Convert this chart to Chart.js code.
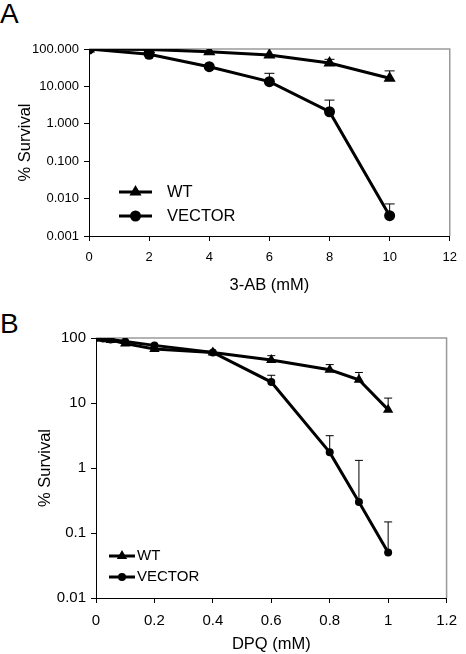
<!DOCTYPE html>
<html>
<head>
<meta charset="utf-8">
<script src="https://cdn.jsdelivr.net/npm/chart.js@4"></script>
<style>
  html, body { margin: 0; padding: 0; background: #fff; }
  body { width: 466px; height: 654px; position: relative; overflow: hidden; font-family: "Liberation Sans", Arial, sans-serif; }
  .panel { position: absolute; left: 0; width: 466px; }
  .tag { position: absolute; left: 0; font-size: 28px; line-height: 28px; color: #000; }
</style>
</head>
<body>
<div class="tag" style="top:0px;">A</div>
<div class="panel" style="top:0; height:300px;"><canvas id="chartA" width="466" height="300"></canvas></div>
<div class="tag" style="top:310px;">B</div>
<div class="panel" style="top:300px; height:354px;"><canvas id="chartB" width="466" height="354"></canvas></div>
<script>
// Panel A: 3-AB
const doseA = [0, 2, 4, 6, 8, 10];
const wtA = [100, 97, 85, 69, 42, 16.5];
const wtTopA = [null, null, null, null, 53, 26];
const vecA = [100, 72, 33.6, 13.4, 2.1, 0.0035];
const vecTopA = [null, null, null, 22.4, 4.3, 0.0072];
const xTicksA = [0, 2, 4, 6, 8, 10, 12];
const yTicksA = [0.001, 0.01, 0.1, 1, 10, 100];
const yLabelsA = ['0.001', '0.010', '0.100', '1.000', '10.000', '100.000'];

// Panel B: DPQ
const doseB = [0, 0.025, 0.05, 0.1, 0.2, 0.4, 0.6, 0.8, 0.9, 1.0];
const wtB = [100, 97, 93, 82, 68, 60, 46, 32.5, 22.8, 7.9];
const wtTopB = [null, null, null, null, null, null, 53.5, 39, 29.5, 11.9];
const vecB = [100, 98, 95, 88, 77, 60, 21, 1.74, 0.30, 0.05];
const vecTopB = [null, null, null, null, null, null, 26.7, 3.14, 1.31, 0.148];
const xTicksB = [0, 0.2, 0.4, 0.6, 0.8, 1.0, 1.2];
const xLabelsB = ['0', '0.2', '0.4', '0.6', '0.8', '1', '1.2'];
const yTicksB = [0.01, 0.1, 1, 10, 100];
const yLabelsB = ['0.01', '0.1', '1', '10', '100'];

const seriesNames = ['WT', 'VECTOR'];
const FONT = '"Liberation Sans", Arial, sans-serif';

const toPoints = (xs, ys) => xs.map((x, i) => ({ x, y: ys[i] }));

function drawMarker(ctx, style, r, x, y) {
  ctx.beginPath();
  if (style === 'triangle') {
    ctx.moveTo(x, y - r);
    ctx.lineTo(x + r * 0.866, y + r * 0.5);
    ctx.lineTo(x - r * 0.866, y + r * 0.5);
    ctx.closePath();
  } else {
    ctx.arc(x, y, r, 0, Math.PI * 2);
  }
  ctx.fill();
}

// upper-only error bars with caps
const errorBars = {
  id: 'errorBars',
  afterDatasetsDraw(chart, args, opts) {
    const { ctx, scales: { x, y } } = chart;
    ctx.save();
    ctx.strokeStyle = '#000';
    ctx.lineWidth = 1;
    chart.data.datasets.forEach(ds => {
      (ds.errTop || []).forEach((top, i) => {
        if (top == null) return;
        const px = x.getPixelForValue(ds.data[i].x);
        const py = y.getPixelForValue(ds.data[i].y);
        const pt = y.getPixelForValue(top);
        ctx.beginPath();
        ctx.moveTo(px, py);
        ctx.lineTo(px, pt);
        ctx.moveTo(px - opts.cap, pt);
        ctx.lineTo(px + opts.cap, pt);
        ctx.stroke();
      });
    });
    ctx.restore();
  }
};

// grey top/right frame
const frame = {
  id: 'frame',
  beforeDatasetsDraw(chart) {
    const { ctx, chartArea: a } = chart;
    ctx.save();
    ctx.strokeStyle = '#9a9a9a';
    ctx.lineWidth = 1.5;
    ctx.beginPath();
    ctx.moveTo(a.left, a.top);
    ctx.lineTo(a.right, a.top);
    ctx.lineTo(a.right, a.bottom);
    ctx.stroke();
    ctx.restore();
  }
};

// in-plot legend
const insetLegend = {
  id: 'insetLegend',
  afterDraw(chart, args, o) {
    const { ctx } = chart;
    ctx.save();
    ctx.font = o.fontSize + 'px ' + FONT;
    ctx.textBaseline = 'middle';
    chart.data.datasets.forEach((ds, i) => {
      const y = o.y[i];
      ctx.strokeStyle = '#000';
      ctx.fillStyle = '#000';
      ctx.lineWidth = ds.borderWidth;
      ctx.beginPath();
      ctx.moveTo(o.x1, y);
      ctx.lineTo(o.x2, y);
      ctx.stroke();
      drawMarker(ctx, ds.pointStyle, ds.pointRadius, (o.x1 + o.x2) / 2, y);
      ctx.fillText(ds.label, o.textX, y);
    });
    ctx.restore();
  }
};

function makeChart(id, cfg) {
  return new Chart(document.getElementById(id), {
    type: 'line',
    data: {
      datasets: [
        {
          label: seriesNames[0], data: toPoints(cfg.dose, cfg.wt), errTop: cfg.wtTop,
          borderColor: '#000', backgroundColor: '#000', borderWidth: 3,
          pointStyle: 'triangle', pointRadius: cfg.triR, pointBorderWidth: 0, tension: 0
        },
        {
          label: seriesNames[1], data: toPoints(cfg.dose, cfg.vec), errTop: cfg.vecTop,
          borderColor: '#000', backgroundColor: '#000', borderWidth: 3,
          pointStyle: 'circle', pointRadius: cfg.circR, pointBorderWidth: 0, tension: 0
        }
      ]
    },
    options: {
      responsive: false,
      animation: false,
      events: [],
      layout: { padding: { top: cfg.padTop, right: cfg.padRight, left: 0, bottom: 0 } },
      plugins: {
        legend: { display: false },
        tooltip: { enabled: false },
        errorBars: { cap: cfg.cap },
        insetLegend: cfg.legend
      },
      scales: {
        x: {
          type: 'linear', min: cfg.xTicks[0], max: cfg.xTicks[cfg.xTicks.length - 1],
          afterBuildTicks: s => { s.ticks = cfg.xTicks.map(v => ({ value: v })); },
          afterFit: s => { s.height = cfg.xHeight; },
          ticks: {
            color: '#000', padding: 9, maxRotation: 0, autoSkip: false,
            font: { family: FONT, size: cfg.tickSize },
            callback: (v) => cfg.xLabels[cfg.xTicks.indexOf(v)] ?? ''
          },
          grid: { drawOnChartArea: false, drawTicks: true, tickLength: 5, color: '#000' },
          border: { display: true, color: '#000', width: 1 },
          title: {
            display: true, text: cfg.xTitle, color: '#000',
            font: { family: FONT, size: 16.5, lineHeight: 1.2 },
            padding: { top: 0, bottom: cfg.xTitlePad }
          }
        },
        y: {
          type: 'logarithmic', min: cfg.yTicks[0], max: cfg.yTicks[cfg.yTicks.length - 1],
          afterBuildTicks: s => { s.ticks = cfg.yTicks.map(v => ({ value: v, major: true })); },
          afterFit: s => { s.width = cfg.yWidth; },
          ticks: {
            color: '#000', padding: 5, autoSkip: false,
            font: { family: FONT, size: cfg.tickSize },
            callback: (v) => {
              const i = cfg.yTicks.findIndex(t => Math.abs(Math.log10(t) - Math.log10(v)) < 1e-6);
              return i >= 0 ? cfg.yLabels[i] : '';
            }
          },
          grid: { drawOnChartArea: false, drawTicks: true, tickLength: 5, color: '#000' },
          border: { display: true, color: '#000', width: 1 },
          title: {
            display: true, text: '% Survival', color: '#000',
            font: { family: FONT, size: 16.5, lineHeight: 1.2 },
            padding: { top: cfg.yTitlePad, bottom: 0 }
          }
        }
      }
    },
    plugins: [frame, errorBars, insetLegend]
  });
}

makeChart('chartA', {
  dose: doseA, wt: wtA, wtTop: wtTopA, vec: vecA, vecTop: vecTopA,
  xTicks: xTicksA, xLabels: xTicksA.map(String), yTicks: yTicksA, yLabels: yLabelsA,
  xTitle: '3-AB (mM)', tickSize: 13, triR: 7, circR: 5.5, cap: 5,
  padTop: 49, padRight: 9, xHeight: 64, yWidth: 89, xTitlePad: 5, yTitlePad: 16,
  legend: { x1: 119, x2: 152, textX: 167, y: [192, 216], fontSize: 16.5 }
});

makeChart('chartB', {
  dose: doseB, wt: wtB, wtTop: wtTopB, vec: vecB, vecTop: vecTopB,
  xTicks: xTicksB, xLabels: xLabelsB, yTicks: yTicksB, yLabels: yLabelsB,
  xTitle: 'DPQ (mM)', tickSize: 15, triR: 6, circR: 4, cap: 4,
  padTop: 38, padRight: 13, xHeight: 56, yWidth: 96, xTitlePad: 0, yTitlePad: 36,
  legend: { x1: 109, x2: 135, textX: 137, y: [256, 277], fontSize: 15 }
});
</script>
</body>
</html>
